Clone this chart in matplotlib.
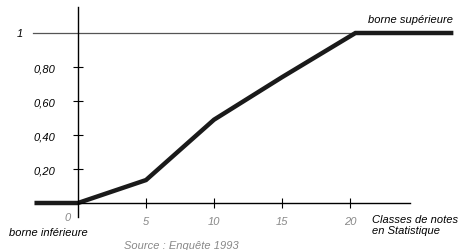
import matplotlib
matplotlib.use("Agg")
import matplotlib.pyplot as plt

# cumulative frequency curve (fonction de répartition)
notes = [-3.2, 0, 5, 10, 15, 20.4, 27.6]
freq = [0, 0, 0.135, 0.49, 0.74, 1, 1]
xticks = [5, 10, 15, 20]
yticks = [0.2, 0.4, 0.6, 0.8]
ylabels = ["0,20", "0,40", "0,60", "0,80"]

plt.rcParams["font.family"] = ["Liberation Sans", "DejaVu Sans"]
plt.rcParams["font.style"] = "italic"
plt.rcParams["font.size"] = 8

fig = plt.figure(figsize=(4.66, 2.51), dpi=100)
ax = fig.add_axes([0, 0, 1, 1])
ax.set_xlim(-78 / 13.6, (466 - 78) / 13.6)
ax.set_ylim(-47 / 170, 204 / 170)

for s in ["top", "right"]:
    ax.spines[s].set_visible(False)
ax.spines["left"].set_position(("data", 0))
ax.spines["bottom"].set_position(("data", 0))
ax.spines["left"].set_bounds(-0.082, 1.153)
ax.spines["bottom"].set_bounds(0, 24.4)
ax.spines["left"].set_linewidth(1.0)
ax.spines["bottom"].set_linewidth(1.0)

ax.set_xticks(xticks)
ax.set_xticklabels([str(t) for t in xticks], color="#888888")
ax.tick_params(axis="x", direction="inout", length=7, width=0.8, pad=6)
ax.set_yticks(yticks)
ax.set_yticklabels(ylabels)
ax.tick_params(axis="y", direction="inout", length=7, width=0.8, pad=13)

# upper bound line
ax.plot([-3.3, 20.4], [1, 1], color="#555555", lw=0.9)
ax.plot(notes, freq, color="#1a1a1a", lw=3.2, solid_joinstyle="miter",
        solid_capstyle="butt")

ax.text(-4.3, 1.0, "1", ha="center", va="center")
ax.text(-0.75, -0.08, "0", ha="center", va="center", color="#888888")
ax.text(27.6, 1.08, "borne supérieure", ha="right", va="center")
ax.text(-5.1, -0.17, "borne inférieure", ha="left", va="center")
ax.text(21.6, -0.125, "Classes de notes\nen Statistique", ha="left",
        va="center", linespacing=1.1)
ax.text(7.6, -0.245, "Source : Enquête 1993", ha="center", va="center",
        color="#888888")

fig.savefig("out.png", dpi=100)
